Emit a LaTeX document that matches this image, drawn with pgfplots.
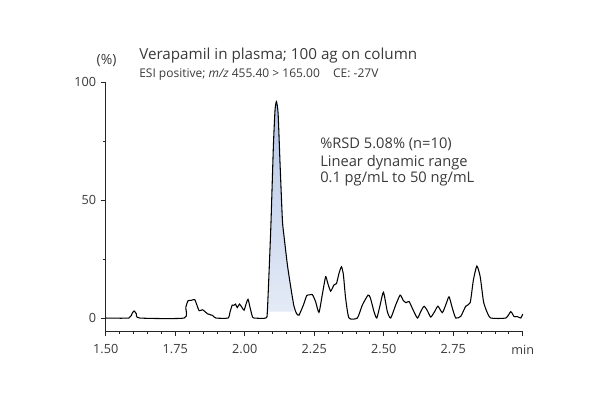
\documentclass[border=0pt]{standalone}
\usepackage{fontspec}
\setmainfont{Open Sans}
\usepackage{pgfplots}
\pgfplotsset{compat=1.18}
\definecolor{txt}{HTML}{3A3A3A}
\definecolor{shadetop}{HTML}{B4C6E6}
\definecolor{shadebot}{HTML}{E4EBF6}
\begin{document}
\begin{tikzpicture}
\path[use as bounding box] (0pt,0pt) rectangle (450pt,300pt);
\begin{axis}[
  at={(79.3pt,51.75pt)}, anchor=south west,
  scale only axis, width=312.75pt, height=186.75pt,
  xmin=1.5, xmax=3.0, ymin=-5.5, ymax=100,
  axis x line=bottom, axis y line=left,
  axis line style={-, black!85, line width=0.6pt},
  tick style={black!85, line width=0.6pt},
  tick align=outside,
  major tick length=3.75pt, minor tick length=2.4pt,
  xtick={1.5,1.75,2,2.25,2.5,2.75,3},
  xticklabels={1.50,1.75,2.00,2.25,2.50,2.75,min},
  minor x tick num=4,
  ytick={0,50,100}, minor y tick num=1,
  /pgf/number format/assume math mode=true,
  ticklabel style={font=\fontsize{9.5}{11}\selectfont, text=txt},
  xticklabel style={yshift=-3pt},
  clip=false,
]
\addplot[draw=none, top color=shadetop, bottom color=shadebot] coordinates {
(2.083,2.7) (2.0935,37.3) (2.103,72.6) (2.109,88.1) (2.114,91.7) (2.120,86.7)
(2.127,65.5) (2.1355,41.5) (2.1415,34.5) (2.1535,22.5) (2.165,13.5) (2.174,5) (2.176,2.7)
} -- cycle;
\addplot[black, line width=0.8pt, smooth, tension=0.35] coordinates {
(1.500,0) (1.583,0) (1.595,2) (1.602,3) (1.610,1.8) (1.622,0)
(1.782,0) (1.788,4.5) (1.796,7.3) (1.808,7.5) (1.820,7.8) (1.828,5.5)
(1.836,3.1) (1.848,3.5) (1.858,2.6) (1.866,1.8) (1.876,1.4)
(1.884,1.1) (1.896,0)
(1.940,0) (1.947,2.5) (1.955,5.5) (1.961,5.4) (1.967,5.9) (1.973,4.4) (1.981,5.9)
(1.990,4.5) (1.9975,3.3) (2.005,6) (2.012,7.9) (2.020,4) (2.028,0.4) (2.033,0)
(2.076,0) (2.0816,3.4) (2.0935,37.3) (2.103,72.6) (2.109,88.1) (2.114,91.7)
(2.120,86.7) (2.127,65.5) (2.1355,41.5) (2.1415,34.5) (2.1535,22.5)
(2.165,13.5) (2.177,5.0) (2.186,2.0) (2.195,1.2) (2.211,5.5) (2.223,9.5)
(2.233,9.8) (2.2435,9.9) (2.255,6.9) (2.267,2.4) (2.279,9.9) (2.291,17.5)
(2.298,15) (2.309,11.4) (2.321,14) (2.330,14.6) (2.339,18.9) (2.348,21.7)
(2.355,18.2) (2.363,8.3) (2.375,0) (2.405,0) (2.423,5.5) (2.4436,9.7)
(2.452,8.5) (2.465,2.7) (2.475,0) (2.487,5.5) (2.499,10.9) (2.513,2.7)
(2.525,0) (2.543,5.5) (2.559,9.7) (2.570,7.5) (2.580,6.5) (2.591,7)
(2.603,4.1) (2.621,0) (2.633,2.7) (2.645,5) (2.657,3.1) (2.669,0.4)
(2.683,2.7) (2.695,5) (2.711,2.3) (2.726,6.5) (2.735,9) (2.747,4.1)
(2.759,0) (2.777,0.7) (2.795,5) (2.811,6.5) (2.8225,16.1) (2.835,22)
(2.847,17.5) (2.859,6.9) (2.871,2.7) (2.885,0) (2.939,0) (2.957,2.7)
(2.969,0.6) (2.981,0.6) (2.993,0) (3.0,1.7)
};
\end{axis}
\node[anchor=base, text=txt, font=\fontsize{10.5}{12}\selectfont] at (79.9pt,251.25pt) {(\%)};
\node[anchor=base west, inner sep=0pt, text=txt, font=\fontsize{11.4}{13}\selectfont] at (104.25pt,255.5pt) {Verapamil in plasma; 100 ag on column};
\node[anchor=base west, inner sep=0pt, text=txt, font=\fontsize{9}{10}\selectfont] at (104.25pt,241.7pt) {ESI positive; \textit{m/z} 455.40 > 165.00\hspace{1.1em}CE: -27V};
\node[anchor=base west, inner sep=0pt, text=txt, font=\fontsize{11}{12}\selectfont] at (240pt,188.8pt) {\%RSD 5.08\% (n=10)};
\node[anchor=base west, inner sep=0pt, text=txt, font=\fontsize{11}{12}\selectfont] at (240pt,175pt) {Linear dynamic range};
\node[anchor=base west, inner sep=0pt, text=txt, font=\fontsize{11}{12}\selectfont] at (240pt,163pt) {0.1 pg/mL to 50 ng/mL};
\end{tikzpicture}
\end{document}
